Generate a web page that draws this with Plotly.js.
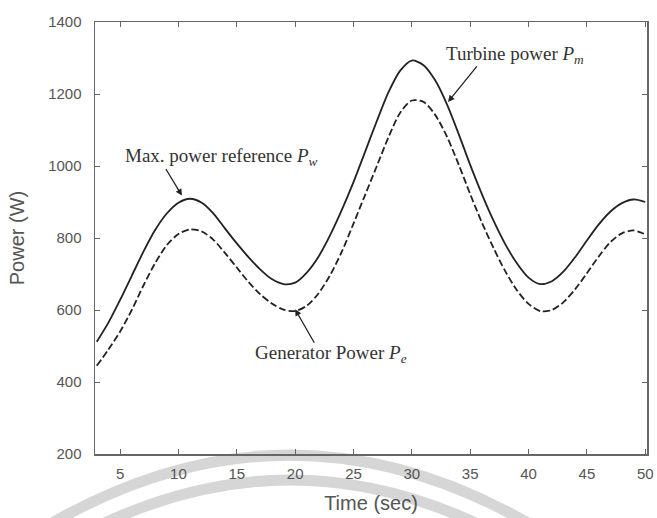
<!DOCTYPE html>
<html>
<head>
<meta charset="utf-8">
<script src="https://cdn.plot.ly/plotly-3.0.1.min.js"></script>
<style>html,body{margin:0;padding:0;background:#fff;}#chart{width:657px;height:518px;}</style>
</head>
<body>
<div id="chart"></div>
<script>
// Time axis (sec)
const timeSec = [3,4,5,6,7,8,9,10,11,12,13,14,15,16,17,18,19,20,21,22,23,24,25,26,27,28,29,30,31,32,33,34,35,36,37,38,39,40,41,42,43,44,45,46,47,48,49,50];
// Turbine power Pm (solid), W
const turbinePower = [512,565,628,695,762,822,868,898,909,898,868,826,785,747,713,686,672,676,704,748,808,878,955,1040,1125,1205,1265,1293,1280,1238,1172,1090,1003,922,848,783,730,690,672,680,707,747,793,837,873,897,907,900];
// Generator power Pe (dashed), W
const generatorPower = [445,490,540,600,668,730,780,811,824,818,795,758,718,678,644,618,601,597,612,646,697,762,840,920,1000,1080,1148,1182,1178,1142,1082,1005,922,843,772,708,655,617,597,600,622,658,702,748,788,813,821,810];
const yTicks = [200,400,600,800,1000,1200,1400];
const xTicks = [5,10,15,20,25,30,35,40,45,50];

const traces = [
  {x: timeSec, y: turbinePower, type: 'scatter', mode: 'lines', name: 'Turbine power',
   line: {color: '#222', width: 1.8, shape: 'spline', smoothing: 0.8}},
  {x: timeSec, y: generatorPower, type: 'scatter', mode: 'lines', name: 'Generator power',
   line: {color: '#222', width: 1.8, dash: '7px,3px', shape: 'spline', smoothing: 0.8}}
];

const serif = {family: 'Liberation Serif, Times New Roman, serif', size: 19, color: '#333'};
const arrowCommon = {showarrow: true, arrowhead: 2, arrowsize: 1, arrowwidth: 1.3, arrowcolor: '#222', text: '', standoff: 0, startstandoff: 0};

const layout = {
  width: 657, height: 518,
  margin: {l: 95, r: 10, t: 22, b: 64},
  paper_bgcolor: '#fff', plot_bgcolor: '#fff',
  showlegend: false,
  font: {family: 'Liberation Sans, Arial, sans-serif', color: '#555'},
  xaxis: {
    range: [2.85, 50.15], tickvals: xTicks, ticks: 'inside', ticklen: 5, tickcolor: '#666',
    showline: true, linecolor: '#666', linewidth: 1.5, mirror: 'ticks', showgrid: false, zeroline: false,
    tickfont: {size: 15, color: '#555'}, ticklabelstandoff: 5,
    title: {text: 'Time (sec)', font: {size: 20, color: '#555'}, standoff: 15}
  },
  yaxis: {
    range: [200, 1400], tickvals: yTicks, ticks: 'inside', ticklen: 5, tickcolor: '#666',
    showline: true, linecolor: '#666', linewidth: 1.5, mirror: 'ticks', showgrid: false, zeroline: false,
    tickfont: {size: 15, color: '#555'}, ticklabelstandoff: 9,
    title: {text: 'Power (W)', font: {size: 20, color: '#555'}, standoff: 18}
  },
  shapes: [
    {type: 'path', xref: 'paper', yref: 'paper', layer: 'below',
     path: 'M -0.0996 -0.176 Q 0.353 0.171 0.806 -0.176',
     line: {color: 'rgba(200,200,200,0.75)', width: 11}},
    {type: 'path', xref: 'paper', yref: 'paper', layer: 'below',
     path: 'M -0.009 -0.176 Q 0.353 0.0556 0.716 -0.176',
     line: {color: 'rgba(200,200,200,0.75)', width: 11}}
  ],
  annotations: [
    {x: 13.65, y: 1026, xref: 'x', yref: 'y', showarrow: false, font: serif,
     text: 'Max. power reference <i>P</i><sub><i>w</i></sub>'},
    Object.assign({x: 10.3, y: 918, xref: 'x', yref: 'y', ax: -17, ay: -28}, arrowCommon),
    {x: 38.8, y: 1309, xref: 'x', yref: 'y', showarrow: false, font: serif,
     text: 'Turbine power <i>P</i><sub><i>m</i></sub>'},
    Object.assign({x: 33.1, y: 1178, xref: 'x', yref: 'y', ax: 30, ay: -37}, arrowCommon),
    {x: 23.07, y: 478, xref: 'x', yref: 'y', showarrow: false, font: serif,
     text: 'Generator Power <i>P</i><sub><i>e</i></sub>'},
    Object.assign({x: 20.0, y: 602, xref: 'x', yref: 'y', ax: 20, ay: 35}, arrowCommon)
  ]
};

Plotly.newPlot('chart', traces, layout, {displayModeBar: false, staticPlot: true});
</script>
</body>
</html>
